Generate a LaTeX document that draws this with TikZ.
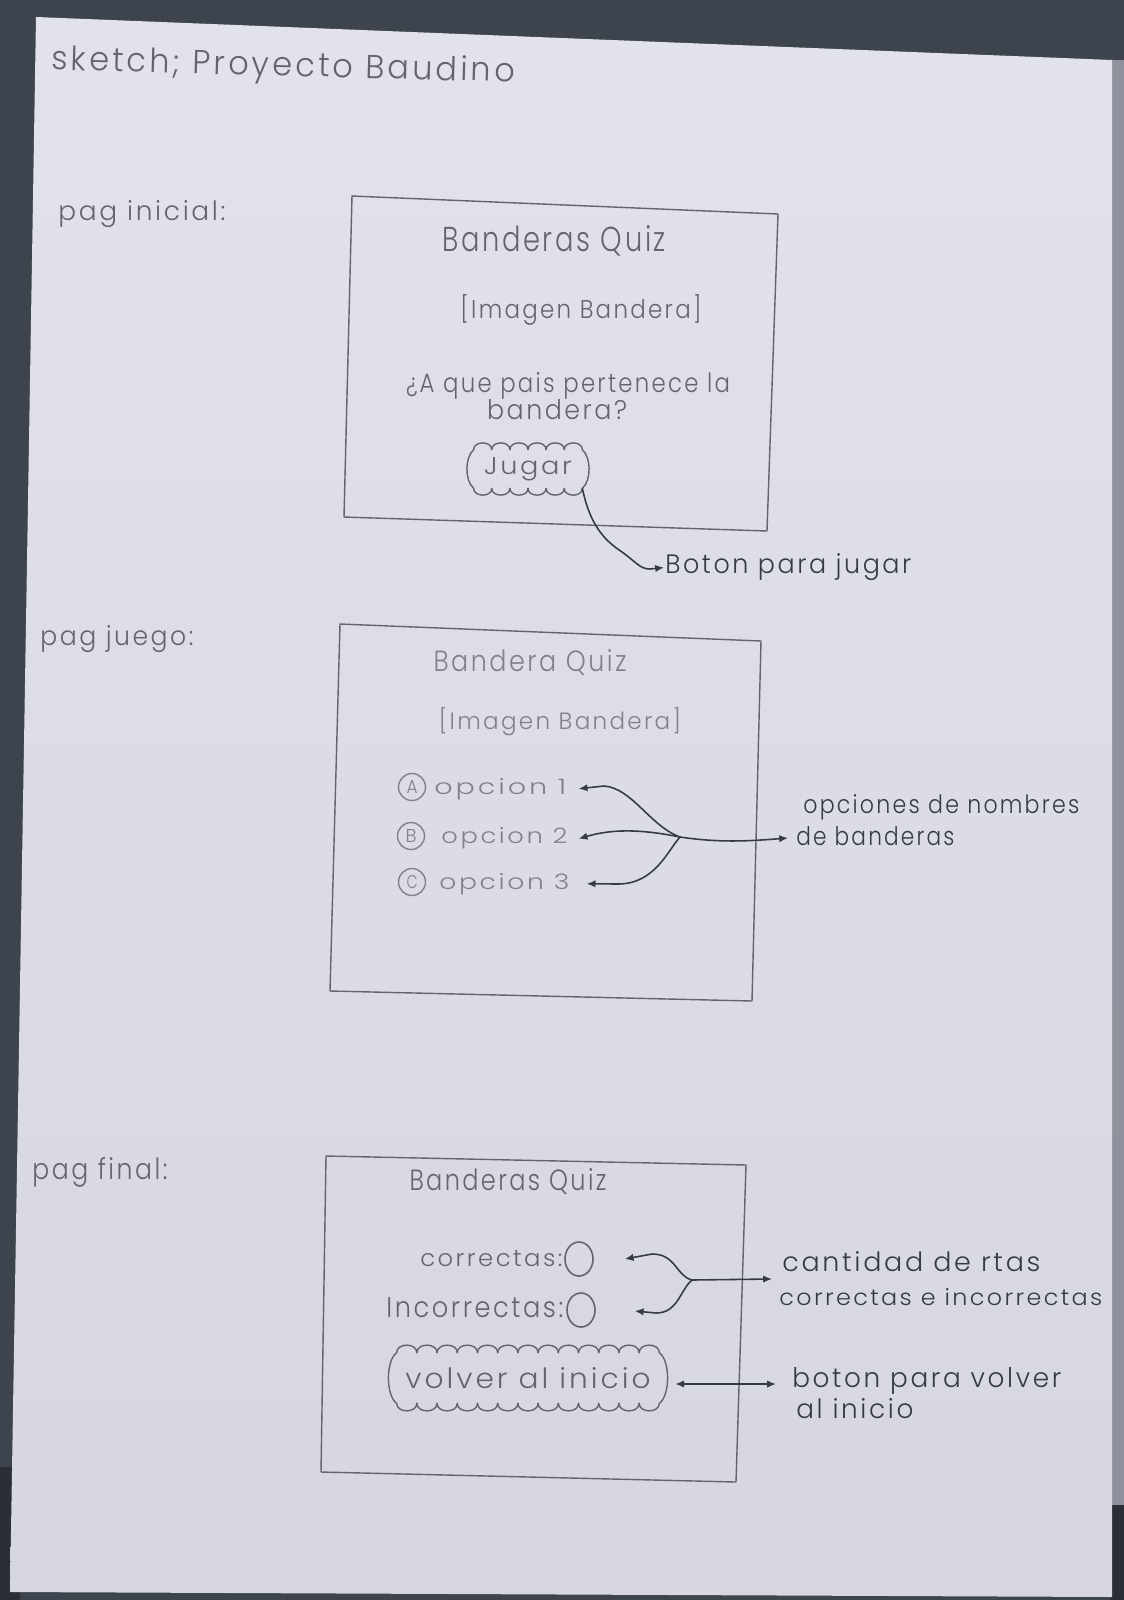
\documentclass[tikz,border=0pt]{standalone}
\usepackage{fontspec}
\IfFontExistsTF{Poppins Light}{\setmainfont{Poppins Light}[LetterSpace=10]}{\setmainfont{Poppins}[LetterSpace=10]}
\usetikzlibrary{arrows.meta,calc,shapes.geometric}

% one drawing unit = one pixel of the sheet
\newlength\pxu
\setlength\pxu{0.02cm}
% handwritten text, stretched to a given width and height (pixels)
\newcommand\hand[3]{\resizebox{#1\pxu}{#2\pxu}{#3}}

\definecolor{desk}{HTML}{3E444D}
\definecolor{deskdark}{HTML}{2A2E35}
\definecolor{deskside}{HTML}{8E929C}
\definecolor{papertop}{HTML}{E2E2EB}
\definecolor{paperbot}{HTML}{D5D6DF}
\definecolor{pencil}{HTML}{63646C}
\definecolor{pencillight}{HTML}{80818A}
\definecolor{ink}{HTML}{363A44}

\tikzset{
  frame/.style={draw=pencil, line width=0.8pt, line join=round},
  txt/.style={inner sep=0pt, anchor=base, text=pencil},
  txtlight/.style={txt, text=pencillight},
  lefttxt/.style={inner sep=0pt, anchor=base west, text=pencil},
  lefttxtlight/.style={lefttxt, text=pencillight},
  note/.style={inner sep=0pt, anchor=base west, text=ink},
  inkline/.style={draw=ink, line width=0.9pt, line cap=round, line join=round},
  tipend/.style={-{Latex[length=5pt,width=4.2pt]}},
  tipboth/.style={{Latex[length=5pt,width=4.2pt]}-{Latex[length=5pt,width=4.2pt]}},
  ring/.style={draw=pencillight, line width=0.8pt, circle, minimum size=27\pxu,
    inner sep=0pt, text=pencillight},
  blank/.style={draw=pencil, line width=0.9pt, ellipse, minimum width=28\pxu,
    minimum height=34\pxu, inner sep=0pt},
  cloudbox/.style={inner sep=0pt, text=pencil},
  cloudline/.style={draw=pencil, line width=0.8pt, line cap=round},
}

% a row of scallops from #1 to #2: #3 arcs, control offset #4 (pixels, negative = up)
\newcommand\scallops[4]{%
  \foreach \k [evaluate=\k as \ka using (\k-1)/#3, evaluate=\k as \kb using \k/#3] in {1,...,#3}
    \draw[cloudline] ($(#1)!\ka!(#2)$) .. controls +(0,#4) and +(0,#4) .. ($(#1)!\kb!(#2)$);
}
% scalloped outline round a button node: arcs on top/bottom, arc height, side bulge
\newcommand\puffs[4]{%
  \scallops{#1.north west}{#1.north east}{#2}{-#3}
  \scallops{#1.south west}{#1.south east}{#2}{#3}
  \draw[cloudline] (#1.north west) .. controls +(-#4,8) and +(-#4,-8) .. (#1.south west);
  \draw[cloudline] (#1.north east) .. controls +(#4,8) and +(#4,-8) .. (#1.south east);
}

\begin{document}
\begin{tikzpicture}[x=1\pxu, y=-1\pxu]
\useasboundingbox (0,0) rectangle (1124,1600);

% desk behind the sheet
\fill[desk] (0,0) rectangle (1124,1600);
\fill[deskside] (1110,60) rectangle (1124,1505);
\fill[deskdark] (1110,1505) rectangle (1124,1600);
\fill[deskdark] (0,1467) rectangle (20,1600);

% the sheet
\shade[top color=papertop, bottom color=paperbot]
  (36,17) -- (1112,60) -- (1112,1597) -- (10,1592) -- cycle;

% heading and page labels
\node[txt, rotate=-1.5] (title) at (283,76) {\hand{464}{25}{sketch; Proyecto Baudino}};
\node[txt] (pag1) at (142,220) {\hand{167}{20}{pag inicial:}};
\node[txt] (pag2) at (117,645) {\hand{153}{20}{pag juego:}};
\node[txt] (pag3) at (100,1179) {\hand{135}{22}{pag final:}};

% ---------- start page ----------
\draw[frame] (352,196) -- (778,214) -- (767,531) -- (344,517) -- cycle;
\node[txt] (q1title) at (554,251) {\hand{224}{26}{Banderas Quiz}};
\node[txt] (q1img) at (581,318) {\hand{241}{24}{[Imagen Bandera]}};
\node[txt] (q1ask) at (568,392) {\hand{324}{20}{¿A que pais pertenece la}};
\node[txt] (q1ask2) at (557,419) {\hand{140}{20}{bandera?}};
\node[cloudbox, minimum width=108\pxu, minimum height=38\pxu] (jugar) at (528,469)
  {\hand{88}{17}{Jugar}};
\puffs{jugar}{6}{9}{9}
\node[note] (labJ) at (665,573) {\hand{246}{20}{Boton para jugar}};
\draw[inkline, tipend] (jugar.south east) .. controls (590,525) and (604,540) .. (622,552)
  .. controls (636,562) and (640,569) .. (650,569) -- ($(labJ.west)+(-1,1)$);

% ---------- game page ----------
\draw[frame] (340,624) -- (761,641) -- (752,1001) -- (330,991) -- cycle;
\node[txtlight] (q2title) at (530,671) {\hand{193}{22}{Bandera Quiz}};
\node[txtlight] (q2img) at (560,729) {\hand{242}{22}{[Imagen Bandera]}};
\node[ring] (ra) at (412,787) {\hand{11}{13}{A}};
\node[ring] (rb) at (411,836) {\hand{11}{13}{B}};
\node[ring] (rc) at (412,882) {\hand{11}{13}{C}};
\node[lefttxtlight] (opt1) at (434,794) {\hand{132}{16}{opcion 1}};
\node[lefttxtlight] (opt2) at (441,843) {\hand{126}{16}{opcion 2}};
\node[lefttxtlight] (opt3) at (439,889) {\hand{130}{16}{opcion 3}};
\node[note] (lab2a) at (803,813) {\hand{276}{19}{opciones de nombres}};
\node[note] (lab2b) at (796,845) {\hand{158}{19}{de banderas}};
\coordinate (jn2) at (680,837);
\draw[inkline, tipend] (jn2) .. controls (650,826) and (632,788) .. (604,786)
  -- ($(opt1.east)+(12,0)$);
\draw[inkline, tipend] (jn2) .. controls (645,830) and (615,828) .. ($(opt2.east)+(11,1)$);
\draw[inkline, tipend] (jn2) .. controls (668,850) and (655,884) .. (618,884)
  -- ($(opt3.east)+(17,0)$);
\draw[inkline, tipend] (jn2) .. controls (720,843) and (750,841) .. ($(lab2b.base west)+(-8,-7)$);

% ---------- final page ----------
\draw[frame] (326,1156) -- (746,1165) -- (736,1482) -- (321,1472) -- cycle;
\node[txt] (q3title) at (508,1190) {\hand{197}{22}{Banderas Quiz}};
\node[lefttxt] (ok) at (420,1266) {\hand{142}{16}{correctas:}};
\node[lefttxt] (bad) at (386,1317) {\hand{177}{20}{Incorrectas:}};
\node[blank] (okc) at (579,1259) {};
\node[blank] (badc) at (581,1310) {};
\node[cloudbox, minimum width=262\pxu, minimum height=50\pxu] (volver) at (528,1378)
  {\hand{245}{21}{volver al inicio}};
\puffs{volver}{13}{10}{11}
\node[note] (lab3a) at (782,1271) {\hand{258}{20}{cantidad de rtas}};
\node[note] (lab3b) at (779,1305) {\hand{323}{17}{correctas e incorrectas}};
\node[note] (lab4a) at (792,1387) {\hand{269}{20}{boton para volver}};
\node[note] (lab4b) at (796,1418) {\hand{117}{20}{al inicio}};
\coordinate (jn3) at (692,1280);
\draw[inkline, tipend] (jn3) .. controls (676,1276) and (676,1254) .. (652,1254)
  -- ($(okc.east)+(31,0)$);
\draw[inkline, tipend] (jn3) .. controls (680,1290) and (678,1313) .. (656,1313)
  -- ($(badc.east)+(39,1)$);
\draw[inkline, tipend] (jn3) -- ($(lab3a.base west)+(-10,8)$);
\draw[inkline, tipboth] ($(lab4a.base west)+(-16,-3)$) -- ($(volver.east)+(16,6)$);
\end{tikzpicture}
\end{document}
